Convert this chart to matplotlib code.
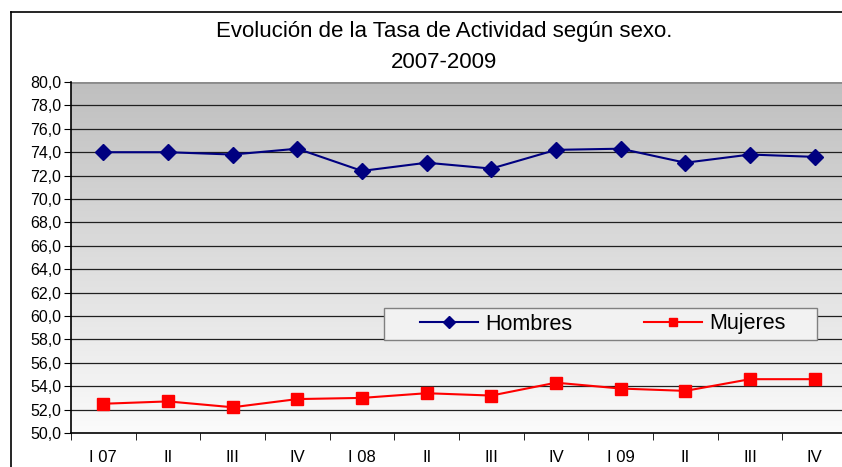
import matplotlib
matplotlib.use('Agg')
import matplotlib.pyplot as plt
import numpy as np

plt.rcParams['font.family'] = ['Liberation Sans', 'DejaVu Sans']

# trimestres 2007-2009
trimestres = ['I 07', 'II', 'III', 'IV', 'I 08', 'II', 'III', 'IV', 'I 09', 'II', 'III', 'IV']
hombres = [74.0, 74.0, 73.8, 74.3, 72.4, 73.1, 72.6, 74.2, 74.3, 73.1, 73.8, 73.6]
mujeres = [52.5, 52.7, 52.2, 52.9, 53.0, 53.4, 53.2, 54.3, 53.8, 53.6, 54.6, 54.6]

fig = plt.figure(figsize=(8.42, 4.67), dpi=100)

# marco exterior del grafico
fig.add_artist(plt.Line2D([10.5/842, 10.5/842], [0, 1 - 12/467], color='black', lw=1.2))
fig.add_artist(plt.Line2D([10.5/842, 1], [1 - 12/467, 1 - 12/467], color='black', lw=1.2))

ax = fig.add_axes([71/842, 34/467, 776/842, 351/467])
x = np.arange(len(trimestres))

# fondo degradado gris -> blanco
grad = np.linspace(0, 1, 256).reshape(-1, 1)
cmap = matplotlib.colors.LinearSegmentedColormap.from_list('g', ['#bfbfbf', '#fbfbfb'])
ax.imshow(grad, aspect='auto', cmap=cmap, extent=[-0.5, len(trimestres) - 0.5, 50, 80],
          origin='upper', zorder=0)

ax.set_xlim(-0.5, len(trimestres) - 0.5)
ax.set_ylim(50, 80)
ax.set_yticks(np.arange(50, 81, 2))
ax.set_yticklabels([f'{v:.1f}'.replace('.', ',') for v in np.arange(50, 81, 2)])
for v in np.arange(52, 81, 2):
    ax.axhline(v, color='#202020', lw=0.9, zorder=1)
ax.axhline(80, color='#8c8c8c', lw=2, zorder=1)

ax.plot(x, hombres, color='#000080', marker='D', markersize=8, lw=1.5, zorder=3, label='Hombres')
ax.plot(x, mujeres, color='#ff0000', marker='s', markersize=8, lw=1.5, zorder=3, label='Mujeres')

ax.set_xticks(x)
ax.set_xticklabels(trimestres, fontsize=12, family=['Liberation Sans Narrow', 'Liberation Sans'])
ax.tick_params(axis='x', length=0, pad=12)
ax.set_xticks(np.arange(-0.5, len(trimestres), 1), minor=True)
ax.tick_params(axis='x', which='minor', length=5, direction='out')
ax.tick_params(axis='y', length=5, direction='out', labelsize=11.5, pad=2)

for s in ['top', 'right']:
    ax.spines[s].set_visible(False)
ax.spines['left'].set_linewidth(1.2)
ax.spines['bottom'].set_linewidth(1.2)

# caja de la leyenda
W, H = 776, 351
caja = plt.Rectangle(((384 - 71) / W, 1 - (340 - 82) / H), (817 - 384) / W, 32 / H,
                     transform=ax.transAxes, facecolor='#f2f2f2', edgecolor='#808080',
                     lw=1, zorder=4)
ax.add_patch(caja)
leg = ax.legend(loc='center left', bbox_to_anchor=((420 - 71) / W, 1 - (324 - 82) / H), ncol=2,
                fontsize=15.5, frameon=False, borderpad=0, borderaxespad=0,
                columnspacing=3.3, handlelength=2.7, handletextpad=0.35, markerscale=0.8)
leg.set_zorder(5)

fig.text(444/842, 1 - 31/467, 'Evolución de la Tasa de Actividad según sexo.', ha='center', va='center', fontsize=16)
fig.text(444/842, 1 - 62/467, '2007-2009', ha='center', va='center', fontsize=16)

fig.savefig('out.png', dpi=100)
